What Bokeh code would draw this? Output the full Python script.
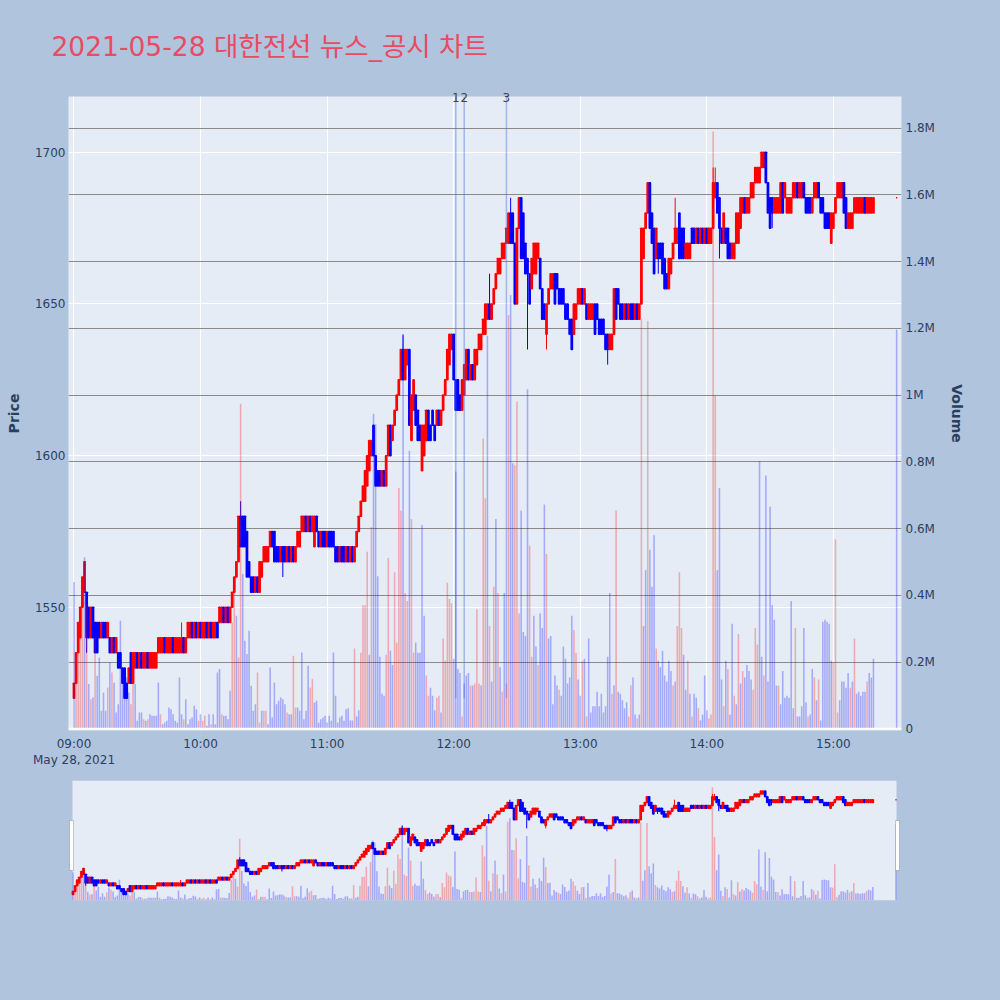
import pandas as pd
from bokeh.plotting import figure
from bokeh.models import (ColumnDataSource, Range1d, LinearAxis, FixedTicker, CustomJSTickFormatter,
                          DatetimeTickFormatter, Grid, BoxAnnotation, Span, GlobalInlineStyleSheet)
from bokeh.layouts import column
from bokeh.embed import file_html
from bokeh.resources import INLINE

DAY = "2021-05-28"
TITLE = "2021-05-28 대한전선 뉴스_공시 차트"
N_CONT = 380            # continuous session minutes 09:00 .. 15:19
CLOSE_TIME = "15:30"    # closing auction print

opens = [
    1520,1525,1535,1540,1550,1555,1555,1550,1540,1550, 1545,1545,1545,1540,1545,1545,1540,1540,1535,1540,
    1535,1535,1535,1530,1530,1525,1525,1535,1525,1530, 1535,1530,1535,1530,1530,1535,1530,1530,1530,1530,
    1535,1535,1535,1540,1535,1535,1535,1540,1535,1535, 1535,1535,1540,1535,1540,1540,1545,1540,1545,1540,
    1545,1540,1540,1545,1540,1545,1540,1540,1545,1545, 1545,1550,1545,1550,1545,1550,1555,1560,1565,1580,
    1580,1580,1575,1565,1560,1560,1555,1560,1555,1560, 1565,1565,1565,1570,1575,1575,1570,1570,1565,1570,
    1570,1565,1570,1565,1570,1565,1570,1570,1575,1575, 1580,1575,1580,1575,1570,1580,1575,1570,1575,1575,
    1570,1575,1575,1575,1570,1570,1565,1570,1570,1565, 1570,1565,1570,1565,1570,1575,1580,1585,1585,1590,
    1595,1600,1610,1600,1595,1595,1590,1595,1590,1600, 1610,1605,1610,1615,1620,1625,1635,1625,1630,1635,
    1605,1615,1620,1615,1610,1595,1600,1605,1615,1610, 1615,1610,1610,1615,1610,1615,1620,1625,1630,1635,
    1640,1625,1625,1620,1615,1620,1625,1635,1625,1630, 1625,1630,1635,1635,1640,1640,1645,1650,1645,1650,
    1655,1660,1660,1665,1665,1670,1670,1680,1680,1670, 1650,1675,1685,1680,1670,1665,1660,1655,1660,1660,
    1665,1665,1655,1650,1640,1650,1655,1655,1660,1660, 1655,1655,1655,1650,1650,1645,1645,1640,1645,1650,
    1650,1655,1650,1650,1645,1645,1645,1650,1650,1645, 1645,1645,1640,1640,1635,1635,1640,1655,1655,1650,
    1650,1645,1650,1645,1650,1650,1645,1650,1645,1650, 1665,1675,1680,1690,1680,1675,1665,1670,1670,1670,
    1665,1660,1655,1660,1665,1670,1670,1680,1675,1675, 1665,1665,1665,1675,1675,1670,1675,1670,1675,1670,
    1675,1670,1670,1675,1685,1690,1685,1675,1670,1675, 1675,1670,1665,1665,1670,1670,1675,1680,1685,1680,
    1680,1685,1685,1690,1690,1690,1695,1695,1700,1690, 1685,1685,1680,1680,1680,1680,1690,1685,1680,1680,
    1680,1685,1685,1690,1685,1685,1690,1685,1685,1685, 1680,1685,1685,1690,1685,1685,1680,1680,1680,1670,
    1675,1680,1685,1685,1685,1690,1685,1675,1675,1675, 1680,1680,1680,1680,1680,1685,1680,1680,1680,1680,
    1685,
]
closes = [
    1525,1535,1545,1550,1560,1565,1540,1540,1550,1540, 1535,1535,1540,1545,1540,1540,1545,1535,1540,1535,
    1540,1530,1530,1525,1520,1520,1530,1525,1535,1535, 1530,1535,1530,1535,1535,1530,1535,1535,1535,1535,
    1540,1540,1540,1535,1540,1540,1540,1535,1540,1540, 1540,1540,1535,1540,1545,1545,1540,1545,1540,1545,
    1540,1545,1545,1540,1545,1540,1545,1545,1540,1550, 1550,1545,1550,1545,1550,1555,1560,1565,1580,1570,
    1570,1570,1560,1560,1555,1555,1560,1555,1565,1565, 1570,1570,1570,1575,1570,1565,1565,1565,1570,1565,
    1565,1570,1565,1570,1565,1570,1575,1575,1580,1580, 1575,1580,1575,1580,1580,1575,1570,1575,1570,1570,
    1575,1570,1570,1570,1565,1565,1570,1565,1565,1570, 1565,1570,1565,1570,1575,1580,1585,1590,1595,1600,
    1605,1605,1600,1590,1590,1590,1595,1590,1600,1610, 1600,1610,1615,1620,1625,1635,1625,1635,1635,1610,
    1620,1625,1610,1605,1605,1610,1610,1615,1605,1605, 1610,1605,1615,1610,1615,1620,1625,1635,1640,1640,
    1625,1615,1615,1615,1625,1630,1635,1625,1630,1625, 1635,1635,1640,1640,1645,1650,1650,1645,1650,1655,
    1660,1665,1665,1670,1670,1675,1680,1670,1670,1650, 1675,1685,1665,1665,1660,1660,1650,1665,1670,1670,
    1670,1655,1645,1645,1650,1655,1660,1660,1650,1655, 1650,1650,1650,1645,1645,1640,1635,1650,1650,1655,
    1655,1650,1655,1645,1650,1650,1650,1640,1645,1640, 1640,1640,1635,1635,1640,1640,1655,1645,1650,1645,
    1645,1650,1645,1650,1645,1645,1650,1645,1650,1675, 1675,1680,1690,1675,1670,1660,1675,1665,1665,1660,
    1655,1655,1665,1665,1670,1675,1675,1665,1665,1665, 1670,1670,1670,1670,1670,1675,1670,1675,1670,1675,
    1670,1675,1675,1690,1690,1680,1675,1670,1680,1670, 1665,1665,1670,1670,1680,1680,1685,1685,1680,1685,
    1685,1690,1690,1695,1695,1695,1700,1700,1690,1680, 1675,1680,1685,1685,1685,1690,1680,1690,1685,1685,
    1685,1690,1690,1685,1690,1690,1685,1680,1680,1680, 1685,1690,1690,1685,1680,1680,1675,1675,1675,1680,
    1680,1685,1690,1690,1690,1680,1675,1680,1680,1680, 1685,1685,1685,1685,1685,1680,1685,1685,1685,1685,
    1685,
]
# wicks that reach beyond the candle body (minute index, price)
upper_wick_idx = [51, 79, 156, 197, 207, 285, 303, 304]
upper_wick_val = [1545, 1585, 1640, 1660, 1685, 1685, 1695, 1695]
lower_wick_idx = [6, 99, 209, 215, 224, 253, 277, 306, 331, 359]
lower_wick_val = [1535, 1560, 1650, 1635, 1635, 1630, 1660, 1665, 1675, 1670]

# volume per minute, thousands of shares
volume_k = [
    440,200,314,364,459,514,374,134,89,94, 274,159,214,54,109,54,124,199,169,139,
    49,74,324,144,119,154,109,74,154,134, 24,49,49,29,24,29,44,39,39,39,
    139,44,14,19,24,64,59,44,24,19, 154,44,29,89,14,29,34,69,59,24,
    44,24,39,9,44,14,44,14,169,179, 44,39,39,29,114,319,414,339,214,974,
    464,264,224,294,129,54,74,169,19,54, 54,54,14,184,34,139,74,84,94,89,
    74,49,44,44,219,64,64,54,229,29, 54,189,124,149,79,84,19,29,34,39,
    19,39,24,229,99,19,34,39,24,59, 62,25,25,241,37,56,228,370,370,531,
    222,605,944,913,457,216,105,99,222,512, 234,191,469,259,722,654,1178,407,383,833,
    629,228,259,228,228,611,339,160,99,123, 99,56,93,99,49,271,204,438,389,376,
    210,771,179,167,37,136,160,167,130,130, 136,358,136,130,870,691,1178,308,142,426,
    629,407,185,111,407,136,1240,1300,796,790, 981,346,654,290,278,1018,549,216,339,247,
    191,346,302,672,524,271,278,74,160,130, 117,99,247,210,136,154,339,296,228,148,
    99,204,210,37,271,49,68,68,111,68, 105,49,68,216,407,105,130,654,111,105,
    86,62,80,37,130,154,43,31,43,1228, 308,475,1222,537,426,580,241,204,185,234,
    160,142,204,173,130,142,308,469,302,222, 117,204,105,37,105,93,62,25,43,160,
    56,31,43,1790,1000,475,722,148,68,204, 179,43,315,99,74,284,136,173,154,191,
    173,148,117,302,253,802,216,160,759,142, 666,370,327,130,130,74,173,93,99,93,
    383,62,302,37,37,68,302,80,37,43, 179,154,86,148,25,321,327,321,315,204,
    197,568,49,86,142,142,123,167,123,142, 271,105,111,99,111,111,142,167,154,210,
    1197,
]
# r = red (buy-side) bar, b = blue bar
volume_side = (
    "brrrrbrbrb" "rbbbbbrbrb" "bbbbbbbrrb" "bbbrbrbbbb" "brbbbbbbbb" "bbrbbbbbbr" "brrbbrbbbb" "rbbbbrrbrr"
    "bbbbbbbrrb" "rrbbbbbbbb" "brbbrrbbbb" "bbrrbbbbbb" "bbbbbbbbbb"
    "bbbrbbrrrr" "brbbbbbbrr" "bbrrrrbrrb" "rrbbbbbrrb" "bbrrbrrrrr" "bbbbrbbbrb" "rrrbrrbrbr"
    "brbrbrrbbr" "rrbbbbrrbb" "rbbbrbbbbb" "rbbbbbbrrb" "brbrbbbbbb" "bbbbbrbrb"
    "bbbbrrbbrb" "rbbrbbbrbb" "bbbbbrbrrr" "bbrbrbbrbb" "bbrrrrbbbr" "brbbrbrbrb" "bbbrrrbbrb"
    "bbbbbrbbbb" "bbbrbbbbbr" "bbrbrbbbbb" "brrrbbbbbr" "brbbbbbrbbb"
    "b"
)

news_times = ["12:01", "12:05", "12:25"]
news_labels = ["1", "2", "3"]

price_ticks = [1550, 1600, 1650, 1700]
volume_ticks = [0, 200000, 400000, 600000, 800000, 1000000, 1200000, 1400000, 1600000, 1800000]
hour_ticks = ["09:00", "10:00", "11:00", "12:00", "13:00", "14:00", "15:00"]

# ---------------------------------------------------------------- styling
PAGE_BG = "#b0c4de"
PLOT_BG = "#e5ecf6"
INC, DEC = "#ff0000", "#0000ff"
TXT = "#2a3f5f"
FONT = "DejaVu Sans"


def ts(hhmm):
    return pd.Timestamp(f"{DAY} {hhmm}")


def ms(t):
    return t.value / 1e6


times = list(pd.date_range(ts("09:00"), periods=N_CONT, freq="min")) + [ts(CLOSE_TIME)]
highs = [max(o, c) for o, c in zip(opens, closes)]
lows = [min(o, c) for o, c in zip(opens, closes)]
for i, v in zip(upper_wick_idx, upper_wick_val):
    highs[i] = v
for i, v in zip(lower_wick_idx, lower_wick_val):
    lows[i] = v
ccolor = [DEC if c < o else INC for o, c in zip(opens, closes)]

src = ColumnDataSource(dict(
    t=times, open=opens, close=closes, high=highs, low=lows,
    top=[max(o, c) for o, c in zip(opens, closes)],
    bottom=[min(o, c) for o, c in zip(opens, closes)],
    color=ccolor,
    vol=[v * 1000 for v in volume_k],
    vcolor=[INC if s == "r" else DEC for s in volume_side],
))

MIN = 60000.0
t0 = ms(ts("09:00"))
price_range = (1509.4, 1718.4)
vol_range = (-5000, 1895000)

# ---------------------------------------------------------------- main chart
p = figure(width=992, height=778, x_axis_type="datetime", output_backend="svg", toolbar_location=None,
           x_range=Range1d(t0 - 2.6 * MIN, t0 + 392.3 * MIN),
           y_range=Range1d(*price_range),
           min_border_left=68, min_border_right=91, min_border_top=96, min_border_bottom=48,
           background_fill_color=PLOT_BG, border_fill_color=PAGE_BG, outline_line_color=None)
p.extra_y_ranges = {"vol": Range1d(*vol_range)}

date_axis = p.below[0]
price_axis = p.left[0]

date_axis.ticker = FixedTicker(ticks=[ms(ts(h)) for h in hour_ticks])
date_axis.formatter = DatetimeTickFormatter(
    hours="%H:%M", hourmin="%H:%M", minutes="%H:%M",
    context=DatetimeTickFormatter(hours="%b %d, %Y", hourmin="%b %d, %Y", minutes="%b %d, %Y"),
    context_which="start")
price_axis.ticker = FixedTicker(ticks=price_ticks)
price_axis.axis_label = "Price"

vol_axis = LinearAxis(y_range_name="vol", axis_label="Volume",
                      ticker=FixedTicker(ticks=volume_ticks),
                      formatter=CustomJSTickFormatter(code="""
                          if (tick == 0) { return "0"; }
                          return (Math.round(tick / 1e5) / 10).toString() + "M";
                      """))
p.add_layout(vol_axis, "right")

# news numbers sit on the top edge of the plot
news_axis = LinearAxis(ticker=FixedTicker(ticks=[ms(ts(n)) for n in news_times]),
                       formatter=CustomJSTickFormatter(args=dict(labels=news_labels),
                                                       code="return labels[index];"))
p.add_layout(news_axis, "above")

for ax in [date_axis, price_axis, vol_axis, news_axis]:
    ax.axis_line_color = None
    ax.major_tick_line_color = None
    ax.minor_tick_line_color = None
    ax.major_tick_out = 0
    ax.major_tick_in = 0
    ax.major_label_text_font = FONT
    ax.major_label_text_font_size = "12px"
    ax.major_label_text_color = TXT
    ax.axis_label_text_font = FONT
    ax.axis_label_text_font_size = "14px"
    ax.axis_label_text_color = TXT
    ax.axis_label_text_font_style = "bold"
news_axis.major_label_text_color = "#444444"
news_axis.major_label_standoff = -5
date_axis.major_label_standoff = 6
price_axis.major_label_standoff = 3
price_axis.axis_label_standoff = 10
vol_axis.major_label_standoff = 4
vol_axis.axis_label_standoff = 11

p.title.text = TITLE
p.title.text_font = f"{FONT}, Noto Sans CJK KR"
p.title.text_font_size = "26.5px"
p.title.text_font_style = "normal"
p.title.text_color = "#e84b62"
p.title.align = "left"
p.title.offset = -17
p.title.standoff = 55

p.xgrid.ticker = FixedTicker(ticks=[ms(ts(h)) for h in hour_ticks])
p.xgrid.grid_line_color = "white"
p.xgrid.grid_line_width = 1
p.ygrid.ticker = FixedTicker(ticks=price_ticks)
p.ygrid.grid_line_color = "white"
p.ygrid.grid_line_width = 1
vgrid = Grid(dimension=1, ticker=FixedTicker(ticks=volume_ticks[1:]), y_range_name="vol",
             grid_line_color="#8a8a8a", grid_line_width=1)
p.add_layout(vgrid)
p.add_layout(Span(location=0, dimension="width", y_range_name="vol", line_color="white", line_width=2))


def draw_candles(fig):
    fig.segment(x0="t", x1="t", y0="low", y1="high", color="color", line_width=1, source=src)
    fig.vbar(x="t", width=0.6 * MIN, top="top", bottom="bottom", fill_color="color",
             line_color="color", line_width=1.5, source=src)
    fig.vbar(x="t", width=0.75 * MIN, top="vol", bottom=0, y_range_name="vol",
             fill_color="vcolor", fill_alpha=0.28, line_color=None, source=src)


draw_candles(p)

# news markers
news_src = ColumnDataSource(dict(
    t=[ts(n) for n in news_times],
    y0=[min(lows)] * len(news_times),
    y1=[price_range[1]] * len(news_times),
))
p.segment(x0="t", x1="t", y0="y0", y1="y1", line_color="royalblue", line_alpha=0.42,
          line_width=1.5, source=news_src)

# ---------------------------------------------------------------- range slider
s = figure(width=992, height=200, x_axis_type="datetime", output_backend="svg", toolbar_location=None,
           x_range=Range1d(t0 - 2.13 * MIN, t0 + 392.6 * MIN),
           y_range=Range1d(*price_range),
           x_axis_location=None, y_axis_location=None,
           min_border_left=68, min_border_right=91, min_border_top=2, min_border_bottom=78,
           background_fill_color=PAGE_BG, border_fill_color=PAGE_BG, outline_line_color=None)
s.extra_y_ranges = {"vol": Range1d(*vol_range)}
s.grid.visible = False
s.add_layout(BoxAnnotation(left=t0 - 0.24 * MIN, right=t0 + 390.24 * MIN, fill_color=PLOT_BG,
                           fill_alpha=1, line_color=None, level="underlay"))
draw_candles(s)
for a, b in [(-1.66, 0.24), (389.76, 391.66)]:
    s.add_layout(BoxAnnotation(left=t0 + a * MIN, right=t0 + b * MIN, bottom=1561.6, top=1648.7,
                               fill_color="white", fill_alpha=1, line_color="#555555",
                               line_width=1, level="overlay"))

layout = column(p, s, spacing=0)
layout.stylesheets = [GlobalInlineStyleSheet(css="html, body { background-color: #b0c4de; }")]

open("out.html", "w").write(file_html(layout, INLINE))
